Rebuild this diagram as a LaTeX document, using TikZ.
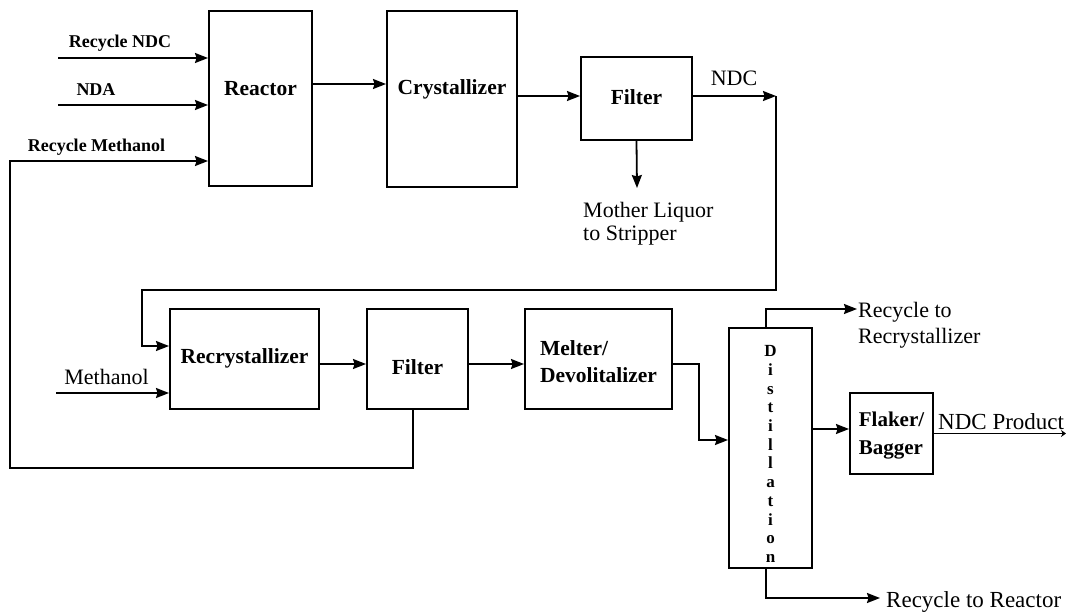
\documentclass[tikz,border=0pt]{standalone}
\usepackage{fontspec}
\setmainfont{Liberation Serif}
\usetikzlibrary{arrows.meta}
\begin{document}
\begin{tikzpicture}[x=1pt,y=-1pt,
 box/.style={draw, line width=2pt, inner sep=0pt},
 boxtxt/.style={font=\fontsize{21.5}{27}\selectfont\bfseries, align=left, inner sep=0pt},
 disttxt/.style={font=\fontsize{17}{18.7}\selectfont\bfseries, align=center, inner sep=0pt},
 smallb/.style={font=\fontsize{18}{22}\selectfont\bfseries, inner sep=0pt},
 txt/.style={font=\fontsize{22}{23}\selectfont, inner sep=0pt, align=left},
 arr/.style={line width=1.8pt, -{Stealth[length=13pt,width=10pt,inset=1.5pt]}},
]
\useasboundingbox (0,0) rectangle (1066,611);

% boxes
\node[box, minimum width=103, minimum height=175, label={[boxtxt,yshift=9.5pt]center:Reactor}] (reactor) at (260.5,98.5) {};
\node[box, minimum width=130, minimum height=176, label={[boxtxt,yshift=10pt]center:Crystallizer}] (cryst) at (452,99) {};
\node[box, minimum width=111, minimum height=83, label={[boxtxt,yshift=1.5pt]center:Filter}] (f1) at (636.5,98.5) {};
\node[box, minimum width=149, minimum height=100, label={[boxtxt,yshift=1pt]center:Recrystallizer}] (rc) at (244.5,359) {};
\node[box, minimum width=101, minimum height=100, label={[boxtxt,yshift=-8pt]center:Filter}] (f2) at (417.5,359) {};
\node[box, minimum width=147, minimum height=100, label={[boxtxt,yshift=-2.5pt]center:{Melter/\\Devolitalizer}}] (mel) at (598.5,359) {};
\node[box, minimum width=83, minimum height=240, label={[disttxt,yshift=-6pt]center:{D\\i\\s\\t\\i\\l\\l\\a\\t\\i\\o\\n}}] (dist) at (770.5,448) {};
\node[box, minimum width=83, minimum height=81, label={[boxtxt,font=\fontsize{21}{28}\selectfont\bfseries,yshift=-2.5pt]center:{Flaker/\\Bagger}}] (fl) at (891.5,433.5) {};

% feeds to reactor
\coordinate (inA) at (58,58);
\coordinate (inB) at (58,105);
\draw[arr] (inA) -- (inA -| reactor.west);
\draw[arr] (inB) -- (inB -| reactor.west);
\node[smallb] (lA) at (120,43) {Recycle NDC};
\node[smallb] (lB) at (96,90) {NDA};
\node[smallb] (lC) at (96.5,147) {Recycle Methanol};

% recycle methanol loop from filter 2
\coordinate (f2d) at ([xshift=-4.5pt]f2.south);
\coordinate (rmA) at (10,468);
\coordinate (rmB) at (10,161);
\draw[arr] (f2d) |- (rmA) -- (rmB) -- (rmB -| reactor.west);

% reactor -> crystallizer -> filter
\coordinate (rxo) at ([yshift=14.5pt]reactor.east);
\draw[arr] (rxo) -- (rxo -| cryst.west);
\coordinate (f1in) at ([yshift=2.5pt]f1.west);
\draw[arr] (f1in -| cryst.east) -- (f1in);

% mother liquor
\coordinate (mlq) at (637,188);
\draw[arr] (f1.south) -- (mlq);
\node[txt, anchor=north west] (mlqt) at (583,202) {Mother Liquor\\to Stripper};

% NDC to recrystallizer
\coordinate (n1) at (776,96);
\coordinate (n2) at (142,290);
\coordinate (rcin) at ([yshift=13pt]rc.west);
\draw[arr] (f1in -| f1.east) -- (n1);
\draw[arr] (n1) |- (n2) |- (rcin);
\node[txt] (ndc) at (734,78) {NDC};

% methanol
\coordinate (meth) at (56,393);
\draw[arr] (meth) -- (meth -| rc.west);
\node[txt] (metht) at (106.5,377) {Methanol};

% lower train
\coordinate (rco) at ([yshift=-5pt]rc.east);
\draw[arr] (rco) -- (rco -| f2.west);
\coordinate (f2o) at ([yshift=-5pt]f2.east);
\draw[arr] (f2o) -- (f2o -| mel.west);
\coordinate (mo) at ([yshift=-5pt]mel.east);
\coordinate (m1) at (699,440);
\draw[arr] (mo) -| (m1) -- (m1 -| dist.west);

% distillation outlets
\coordinate (dt) at ([xshift=-4.5pt]dist.north);
\coordinate (rtr) at (857,309);
\draw[arr] (dt) |- (rtr);
\node[txt, font=\fontsize{22}{26}\selectfont, anchor=north west] (rtrt) at (858,302) {Recycle to\\Recrystallizer};

\coordinate (db) at ([xshift=-4.5pt]dist.south);
\coordinate (rre) at (880,598);
\draw[arr] (db) |- (rre);
\node[txt, font=\fontsize{23}{26}\selectfont, anchor=base west] (rret) at (886,607) {Recycle to Reactor};

\coordinate (dio) at ([yshift=19pt]dist.east);
\draw[arr] (dio) -- (dio -| fl.west);

\coordinate (prod) at (1066,433.5);
\draw[line width=1.8pt, -{Stealth[length=5pt,width=7pt]}] (fl.east) -- (prod);
\node[txt, font=\fontsize{23}{26}\selectfont, anchor=base west] (prodt) at (938,429) {NDC Product};
\end{tikzpicture}
\end{document}
